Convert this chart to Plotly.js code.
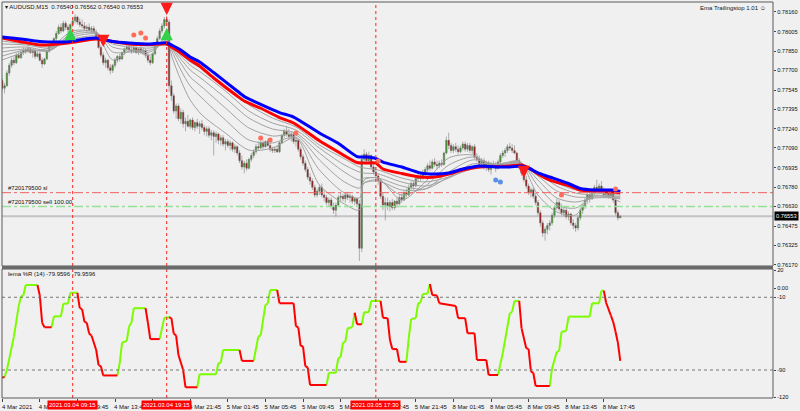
<!DOCTYPE html>
<html><head><meta charset="utf-8">
<script src="https://cdn.plot.ly/plotly-3.0.1.min.js"></script>
<style>html,body{margin:0;padding:0;background:#f0f0f0}#chart{width:800px;height:411px}</style>
</head><body><div id="chart"></div>
<script>
// ---------- DATA ----------
const symbolTitle = "AUDUSD,M15  0.76540 0.76562 0.76540 0.76553";
const indicatorName = "Ema Trailingstop 1.01 \u263A";
const wrTitle = "lema %R (14) -79.9596 -79.9596";

const barOpen = [
.77620,.77560,.77580,.77680,.77740,.77780,.77760,.77820,.77800,.77840,
.77860,.77850,.77870,.77840,.77850,.77810,.77830,.77780,.77750,.77790,
.77850,.77900,.77890,.77950,.77990,.78040,.78010,.78070,.78040,.78020,
.78060,.78090,.78120,.78080,.78060,.78050,.78030,.78040,.78020,.78030,
.78000,.77960,.77880,.77820,.77760,.77780,.77720,.77700,.77740,.77780,
.77810,.77790,.77840,.77870,.77880,.77860,.77850,.77880,.77840,.77870,
.77850,.77860,.77820,.77780,.77760,.77830,.77910,.77950,.78010,.78050,
.78100,.78080,.77580,.77500,.77380,.77420,.77320,.77370,.77280,.77300,
.77260,.77310,.77250,.77290,.77260,.77280,.77250,.77220,.77240,.77190,
.77210,.77180,.77200,.77150,.77170,.77120,.77140,.77110,.77130,.77080,
.77100,.77050,.76990,.76940,.76970,.76930,.77000,.77030,.77060,.77100,
.77090,.77130,.77100,.77140,.77110,.77080,.77070,.77080,.77060,.77130,
.77190,.77220,.77200,.77180,.77200,.77140,.77150,.77080,.77020,.76970,
.76920,.76860,.76830,.76780,.76720,.76750,.76780,.76720,.76700,.76660,
.76680,.76630,.76600,.76640,.76700,.76710,.76690,.76720,.76700,.76710,
.76670,.76690,.76650,.76300,.77000,.77040,.76990,.77030,.76940,.76900,
.76870,.76830,.76710,.76640,.76660,.76630,.76660,.76620,.76670,.76650,
.76700,.76680,.76740,.76720,.76780,.76810,.76790,.76850,.76870,.76850,
.76900,.76920,.76950,.76930,.76980,.76960,.76950,.76970,.76960,.77050,
.77150,.77110,.77070,.77100,.77080,.77060,.77090,.77120,.77080,.77110,
.77070,.77100,.77020,.77000,.76960,.76990,.76940,.76970,.76920,.76960,
.76950,.76930,.76980,.77030,.77050,.77070,.77100,.77090,.77070,.77050,
.76990,.76940,.76890,.76840,.76790,.76740,.76760,.76710,.76660,.76580,
.76500,.76420,.76450,.76480,.76500,.76560,.76620,.76660,.76610,.76580,
.76600,.76550,.76570,.76500,.76480,.76460,.76540,.76600,.76630,.76680,
.76720,.76690,.76750,.76780,.76760,.76790,.76760,.76720,.76750,.76710,
.76730,.76680,.76580,.76540];
const barHigh = [
.77640,.77600,.77700,.77760,.77800,.77810,.77840,.77850,.77860,.77880,
.77880,.77890,.77880,.77870,.77870,.77850,.77850,.77800,.77800,.77860,
.77910,.77930,.77960,.78010,.78060,.78070,.78090,.78090,.78060,.78070,
.78110,.78140,.78130,.78110,.78100,.78080,.78060,.78070,.78050,.78050,
.78020,.77980,.77900,.77840,.77800,.77790,.77750,.77750,.77800,.77820,
.77830,.77850,.77880,.77910,.77900,.77890,.77900,.77890,.77880,.77890,
.77880,.77870,.77840,.77810,.77840,.77920,.77970,.78030,.78070,.78120,
.78130,.78100,.77620,.77520,.77440,.77440,.77400,.77390,.77330,.77350,
.77320,.77330,.77300,.77320,.77300,.77310,.77270,.77260,.77260,.77230,
.77230,.77220,.77210,.77190,.77190,.77160,.77160,.77150,.77140,.77120,
.77110,.77070,.77030,.76990,.77000,.77010,.77050,.77080,.77120,.77140,
.77150,.77150,.77150,.77160,.77130,.77100,.77100,.77110,.77140,.77200,
.77240,.77260,.77240,.77220,.77210,.77170,.77160,.77100,.77040,.76990,
.76940,.76890,.76850,.76800,.76770,.76800,.76810,.76760,.76720,.76700,
.76700,.76660,.76660,.76720,.76740,.76730,.76730,.76740,.76730,.76720,
.76700,.76700,.76680,.77040,.77080,.77060,.77060,.77040,.76980,.76940,
.76890,.76850,.76740,.76700,.76700,.76680,.76690,.76680,.76700,.76720,
.76730,.76750,.76770,.76800,.76830,.76830,.76860,.76890,.76900,.76920,
.76940,.76970,.76990,.77000,.77010,.76990,.76990,.77000,.77060,.77180,
.77210,.77130,.77120,.77130,.77110,.77110,.77140,.77140,.77130,.77130,
.77110,.77120,.77050,.77030,.77010,.77010,.76990,.76990,.76980,.76990,
.76980,.77000,.77050,.77070,.77090,.77120,.77130,.77120,.77110,.77060,
.77010,.76960,.76910,.76870,.76810,.76780,.76780,.76740,.76680,.76600,
.76520,.76470,.76500,.76520,.76580,.76640,.76690,.76680,.76650,.76620,
.76620,.76590,.76580,.76530,.76500,.76560,.76620,.76650,.76700,.76740,
.76750,.76770,.76800,.76840,.76810,.76830,.76780,.76770,.76770,.76750,
.76740,.76700,.76600,.76562];
const barLow = [
.77540,.77520,.77570,.77660,.77720,.77740,.77750,.77790,.77790,.77820,
.77830,.77840,.77830,.77800,.77790,.77800,.77770,.77720,.77740,.77780,
.77840,.77870,.77880,.77930,.77980,.77990,.78000,.78020,.77990,.78000,
.78040,.78070,.78060,.78040,.78030,.78010,.78000,.78010,.77990,.77990,
.77950,.77870,.77800,.77740,.77720,.77700,.77670,.77680,.77720,.77760,
.77770,.77780,.77820,.77850,.77840,.77830,.77840,.77830,.77820,.77830,
.77820,.77800,.77760,.77740,.77750,.77820,.77890,.77940,.77990,.78030,
.78050,.77530,.77460,.77360,.77320,.77300,.77280,.77250,.77220,.77250,
.77240,.77230,.77220,.77240,.77200,.77230,.77190,.77180,.77170,.77150,
.77030,.77130,.77120,.77110,.77100,.77070,.77090,.77070,.77060,.77050,
.77030,.76970,.76920,.76890,.76910,.76920,.76980,.77010,.77040,.77070,
.77080,.77080,.77090,.77100,.77060,.77050,.77050,.77050,.77050,.77120,
.77170,.77180,.77160,.77140,.77120,.77100,.77060,.77000,.76950,.76900,
.76840,.76800,.76760,.76700,.76700,.76720,.76700,.76670,.76640,.76630,
.76610,.76570,.76550,.76630,.76670,.76670,.76660,.76680,.76660,.76650,
.76640,.76630,.76200,.76270,.76980,.76960,.76970,.76920,.76880,.76840,
.76800,.76690,.76600,.76520,.76600,.76590,.76600,.76600,.76620,.76640,
.76660,.76670,.76700,.76710,.76760,.76760,.76780,.76820,.76830,.76840,
.76870,.76900,.76910,.76920,.76940,.76920,.76930,.76940,.76950,.77040,
.77080,.77050,.77050,.77060,.77040,.77050,.77070,.77060,.77060,.77050,
.77040,.77000,.76980,.76940,.76930,.76920,.76910,.76900,.76880,.76930,
.76900,.76920,.76970,.77010,.77020,.77050,.77070,.77050,.77040,.76970,
.76920,.76870,.76820,.76770,.76720,.76700,.76690,.76640,.76560,.76470,
.76390,.76360,.76410,.76440,.76480,.76540,.76600,.76590,.76560,.76550,
.76530,.76520,.76480,.76450,.76430,.76440,.76520,.76570,.76610,.76650,
.76660,.76680,.76710,.76740,.76730,.76740,.76700,.76700,.76690,.76690,
.76660,.76560,.76520,.76540];
const barClose = [
.77560,.77580,.77680,.77740,.77780,.77760,.77820,.77800,.77840,.77860,
.77850,.77870,.77840,.77850,.77810,.77830,.77780,.77750,.77790,.77850,
.77900,.77890,.77950,.77990,.78040,.78010,.78070,.78040,.78020,.78060,
.78090,.78120,.78080,.78060,.78050,.78030,.78040,.78020,.78030,.78000,
.77960,.77880,.77820,.77760,.77780,.77720,.77700,.77740,.77780,.77810,
.77790,.77840,.77870,.77880,.77860,.77850,.77880,.77840,.77870,.77850,
.77860,.77820,.77780,.77760,.77830,.77910,.77950,.78010,.78050,.78100,
.78080,.77580,.77500,.77380,.77420,.77320,.77370,.77280,.77300,.77260,
.77310,.77250,.77290,.77260,.77280,.77250,.77220,.77240,.77190,.77210,
.77180,.77200,.77150,.77170,.77120,.77140,.77110,.77130,.77080,.77100,
.77050,.76990,.76940,.76970,.76930,.77000,.77030,.77060,.77100,.77090,
.77130,.77100,.77140,.77110,.77080,.77070,.77080,.77060,.77130,.77190,
.77220,.77200,.77180,.77200,.77140,.77150,.77080,.77020,.76970,.76920,
.76860,.76830,.76780,.76720,.76750,.76780,.76720,.76700,.76660,.76680,
.76630,.76600,.76640,.76700,.76710,.76690,.76720,.76700,.76710,.76670,
.76690,.76650,.76300,.77000,.77040,.76990,.77030,.76940,.76900,.76870,
.76830,.76710,.76640,.76660,.76630,.76660,.76620,.76670,.76650,.76700,
.76680,.76740,.76720,.76780,.76810,.76790,.76850,.76870,.76850,.76900,
.76920,.76950,.76930,.76980,.76960,.76950,.76970,.76960,.77050,.77150,
.77110,.77070,.77100,.77080,.77060,.77090,.77120,.77080,.77110,.77070,
.77100,.77020,.77000,.76960,.76990,.76940,.76970,.76920,.76960,.76950,
.76930,.76980,.77030,.77050,.77070,.77100,.77090,.77070,.77050,.76990,
.76940,.76890,.76840,.76790,.76740,.76760,.76710,.76660,.76580,.76500,
.76420,.76450,.76480,.76500,.76560,.76620,.76660,.76610,.76580,.76600,
.76550,.76570,.76500,.76480,.76460,.76540,.76600,.76630,.76680,.76720,
.76690,.76750,.76780,.76760,.76790,.76760,.76720,.76750,.76710,.76730,
.76680,.76580,.76540,.76553];

// EMA lines (sampled at bar indices)
const emaIdx = [0,8,16,28,35,40,47,54,63,70,72,76,80,84,90,100,103,110,118,124,135,143,151,155,159,162,170,178,184,190,196,203,210,216,221,224,228,233,241,246,252,256,260,263];
const emaBlue = [.77963,.77947,.77927,.77926,.77947,.77955,.77927,.77916,.77908,.77918,.77900,.77861,.77805,.77766,.77683,.77538,.77495,.77432,.77368,.77333,.77207,.77126,.77022,.77018,.77007,.76979,.76940,.76893,.76885,.76893,.76924,.76948,.76940,.76940,.76948,.76932,.76893,.76861,.76810,.76771,.76759,.76759,.76759,.76747];
const emaRed = [.77955,.77926,.77900,.77916,.77935,.77947,.77927,.77908,.77904,.77908,.77884,.77837,.77782,.77735,.77640,.77498,.77459,.77402,.77329,.77286,.77146,.77058,.76975,.76971,.76971,.76924,.76889,.76861,.76861,.76885,.76916,.76940,.76944,.76948,.76955,.76932,.76885,.76837,.76794,.76759,.76751,.76747,.76743,.76735];

const grayIdx = [0,10,20,30,40,47,55,63,70,72,76,80,85,95,105,115,125,135,145,152,154,160,170,180,190,200,210,220,228,236,244,252,263];
const gray1 = [.77782,.77845,.77876,.78010,.77994,.77782,.77860,.77821,.77971,.77821,.77624,.77467,.77349,.77207,.77073,.77089,.77168,.76798,.76656,.76601,.76837,.76853,.76680,.76822,.77011,.77034,.76932,.76979,.76719,.76586,.76562,.76743,.76664];
const gray2 = [.77813,.77860,.77860,.77994,.78002,.77845,.77845,.77845,.77939,.77860,.77703,.77577,.77483,.77310,.77152,.77129,.77176,.76916,.76743,.76696,.76814,.76837,.76719,.76790,.76955,.77018,.76955,.76987,.76790,.76641,.76617,.76711,.76688];
const gray3 = [.77845,.77868,.77853,.77979,.77994,.77884,.77860,.77860,.77916,.77876,.77758,.77648,.77569,.77404,.77247,.77184,.77192,.76995,.76830,.76774,.76814,.76830,.76759,.76767,.76900,.76995,.76963,.76979,.76837,.76696,.76664,.76696,.76696];
const gray4 = [.77876,.77884,.77860,.77963,.77986,.77908,.77884,.77876,.77908,.77884,.77790,.77703,.77632,.77483,.77325,.77239,.77207,.77050,.76908,.76837,.76853,.76853,.76790,.76767,.76861,.76963,.76963,.76971,.76869,.76751,.76704,.76704,.76704];
const gray5 = [.77908,.77900,.77876,.77947,.77971,.77923,.77900,.77892,.77900,.77892,.77813,.77742,.77679,.77538,.77380,.77286,.77231,.77089,.76963,.76900,.76892,.76885,.76822,.76790,.76853,.76940,.76955,.76963,.76892,.76790,.76735,.76719,.76711];
const gray6 = [.77931,.77908,.77892,.77931,.77955,.77931,.77908,.77900,.77900,.77892,.77829,.77766,.77711,.77577,.77428,.77325,.77255,.77113,.77011,.76940,.76932,.76916,.76853,.76822,.76861,.76924,.76948,.76955,.76900,.76814,.76759,.76735,.76727];

// signals (arrow tip prices)
const upArrowIdx = [29, 70];
const upArrowPrice = [.78034, .78034];
const downArrowIdx = [43, 70, 222];
const downArrowPrice = [.77884, .78136, .76853];
const stopDotIdx = [56, 59, 61, 110, 114, 125, 160, 238, 261];
const stopDotPrice = [.77979, .77994, .77955, .77168, .77152, .77207, .76987, .76719, .76767];
const blueDotIdx = [210, 212];
const blueDotPrice = [.76837, .76822];

// order lines
const slPrice = 0.76738, slLabel = "#720179500 sl";
const entryPrice = 0.76630, entryLabel = "#720179500 sell 100.00";
const lastPrice = 0.76553;

// vertical markers
const vlineIdx = [30, 70, 159];
const vlineLabels = ["2021.03.04 09:15", "2021.03.04 19:15", "2021.03.05 17:30"];

// axes
const timeTickIdx = [0,16,32,48,64,80,96,112,128,144,160,176,192,208,224,240,256];
const timeTickLabels = ["4 Mar 2021","4 Mar 05:45","4 Mar 09:45","4 Mar 13:45","4 Mar 17:45","4 Mar 21:45","5 Mar 01:45","5 Mar 05:45","5 Mar 09:45","5 Mar 13:45","5 Mar 17:45","5 Mar 21:45","8 Mar 01:45","8 Mar 05:45","8 Mar 09:45","8 Mar 13:45","8 Mar 17:45"];
const priceTicks = [0.78160,0.78005,0.77850,0.77700,0.77545,0.77395,0.77240,0.77090,0.76935,0.76780,0.76630,0.76475,0.76325,0.76170];
const wrTicks = [20, 0, -10, -90, -120];
const wrTickText = ["20","0.00","-10","-90","-120"];
const wrLevels = [-10, -90];

// Williams %R line vertices (bar index, value, segment colour)
const wrIdx = [0,1,2,5,7,8,9,10,15,16,
17,18,21,22,25,26,28,29,32,33,
34,35,36,37,38,40,41,42,43,49,
50,51,53,54,55,56,61,62,63,67,
69,71,72,73,74,75,77,78,83,84,
91,92,93,94,101,102,107,109,110,112,
113,114,117,118,124,125,126,127,128,129,
130,131,138,139,142,143,144,145,146,147,
149,150,151,153,154,156,157,161,162,164,
165,166,168,169,172,173,174,176,177,178,
179,181,182,183,185,186,193,194,197,198,
201,202,206,207,211,212,213,214,216,217,
218,220,221,223,224,225,226,227,233,234,
236,237,238,240,241,250,251,254,255,256,
257,259,260,261,262,263];
const wrVal = [-98,-98,-90,-53,-20,-9,-8,3.5,3.5,-8,
-38,-43,-43,-31,-31,-17,-17,-5,-5,-22,
-23,-37,-38,-50,-52,-68,-84.5,-86,-96,-96,
-82.6,-60,-58,-42,-38,-22,-22,-38,-56,-56,
-32.4,-32,-33,-50,-52,-73.5,-90,-109,-109,-94.7,
-94.7,-82.6,-82,-68,-68,-80,-80,-53,-52,-18.5,
-17,-2,-2,-16.6,-16.6,-42,-43,-63.6,-64,-86,
-87,-106.5,-106.5,-93,-93,-77,-76,-60,-59,-44,
-43,-27,-39.7,-39.7,-26.5,-26.5,-14,-14,-32.4,-33,
-57,-67,-67,-81,-81,-55,-34,-33,-16.6,-16,
-6.4,-6,4.6,-7.5,-8,-16.6,-19.6,-33,-33,-49.6,
-49.6,-79,-79,-95.5,-95.5,-83,-71.6,-57,-27.6,-26,
-14,-14,-44,-66,-67,-91.8,-93,-107.6,-107.6,-88,
-70,-69,-48,-47,-31.3,-31.3,-16.6,-16.6,-2.7,-2.7,
-16,-30,-37,-48,-60,-79.96];
const wrColor = ("rrgggggggr"+"rrrggggggr"+"rrrrrrrrrr"+"gggggggrrr"+"ggrrrrrrrg"+
"gggggrrggg"+"gggrrrrrrr"+"rrrggggggg"+"ggrrggggrr"+"rrrrrggggg"+
"gggrrrrrrr"+"rrrrrggggg"+"ggrrrrrrrg"+"gggggggggg"+"rrrrrr").split("");

// ---------- LAYOUT HELPERS ----------
const W = 800, H = 411, ML = 2, MR = 27, MT = 2, MB = 13;
const PW = W - ML - MR, PH = H - MT - MB;
const px = x => (x - ML) / PW;
const py = y => (H - MB - y) / PH;
const FONT = "Liberation Sans, Arial, DejaVu Sans, sans-serif";

const barIdx = barClose.map((_, i) => i);

const traces = [];
const grays = [gray1, gray2, gray3, gray4, gray5, gray6];
grays.forEach(g => traces.push({
  type: "scatter", mode: "lines", x: grayIdx, y: g, xaxis: "x", yaxis: "y",
  line: {color: "#a2a2a2", width: 1, shape: "spline", smoothing: 0.8}, hoverinfo: "skip", showlegend: false
}));
traces.push({
  type: "candlestick", x: barIdx, open: barOpen, high: barHigh, low: barLow, close: barClose,
  xaxis: "x", yaxis: "y", whiskerwidth: 0,
  increasing: {line: {color: "#6a6a6a", width: 0.5}, fillcolor: "#3b9a26"},
  decreasing: {line: {color: "#6a6a6a", width: 0.5}, fillcolor: "#9c1010"},
  hoverinfo: "skip", showlegend: false
});
traces.push({type: "scatter", mode: "lines", x: emaIdx, y: emaRed, xaxis: "x", yaxis: "y",
  line: {color: "#ff0000", width: 3, shape: "spline", smoothing: 0.6}, hoverinfo: "skip", showlegend: false});
traces.push({type: "scatter", mode: "lines", x: emaIdx, y: emaBlue, xaxis: "x", yaxis: "y",
  line: {color: "#0000ff", width: 3, shape: "spline", smoothing: 0.6}, hoverinfo: "skip", showlegend: false});
traces.push({type: "scatter", mode: "markers", x: stopDotIdx, y: stopDotPrice, xaxis: "x", yaxis: "y",
  marker: {symbol: "circle", size: 5, color: "#ff6e5a"}, hoverinfo: "skip", showlegend: false});
traces.push({type: "scatter", mode: "markers", x: blueDotIdx, y: blueDotPrice, xaxis: "x", yaxis: "y",
  marker: {symbol: "circle", size: 5, color: "#5b8fe8"}, hoverinfo: "skip", showlegend: false});

// Williams %R coloured segments
const seg = {g: {x: [], y: []}, r: {x: [], y: []}};
for (let i = 1; i < wrIdx.length; i++) {
  const s = seg[wrColor[i]];
  s.x.push(wrIdx[i - 1], wrIdx[i], null);
  s.y.push(wrVal[i - 1], wrVal[i], null);
}
traces.push({type: "scatter", mode: "lines", x: seg.g.x, y: seg.g.y, xaxis: "x", yaxis: "y2",
  line: {color: "#7cfc00", width: 2}, connectgaps: false, hoverinfo: "skip", showlegend: false});
traces.push({type: "scatter", mode: "lines", x: seg.r.x, y: seg.r.y, xaxis: "x", yaxis: "y2",
  line: {color: "#ff0000", width: 2}, connectgaps: false, hoverinfo: "skip", showlegend: false});

// ---------- SHAPES ----------
const shapes = [];
shapes.push({type: "line", xref: "paper", yref: "y", x0: 0, x1: 1, y0: lastPrice, y1: lastPrice, line: {color: "#c3c3c8", width: 2}, layer: "below"});
shapes.push({type: "line", xref: "paper", yref: "y", x0: 0, x1: 1, y0: slPrice, y1: slPrice, line: {color: "#f06060", width: 1, dash: "dashdot"}});
shapes.push({type: "line", xref: "paper", yref: "y", x0: 0, x1: 1, y0: entryPrice, y1: entryPrice, line: {color: "#98e098", width: 1.5, dash: "dashdot"}});
wrLevels.forEach(v => shapes.push({type: "line", xref: "paper", yref: "y2", x0: 0, x1: 1, y0: v, y1: v, line: {color: "#777777", width: 1, dash: "dot"}}));
vlineIdx.forEach(v => shapes.push({type: "line", xref: "x", yref: "paper", x0: v, x1: v, y0: 0, y1: 1, line: {color: "#ff2020", width: 1, dash: "dot"}}));
shapes.push({type: "rect", xref: "paper", yref: "paper", x0: 0, x1: 1, y0: py(266), y1: 1, line: {color: "#5a5a5a", width: 1}});
shapes.push({type: "rect", xref: "paper", yref: "paper", x0: 0, x1: 1, y0: 0, y1: py(269), line: {color: "#5a5a5a", width: 1}});
shapes.push({type: "rect", xref: "paper", yref: "paper", x0: 0, x1: 1, y0: py(269), y1: py(266), fillcolor: "#6a6a6a", line: {width: 0}});

// ---------- ANNOTATIONS ----------
const annotations = [];
const txt = (x, y, text, opts) => Object.assign({xref: "paper", yref: "paper", x: px(x), y: py(y), text: text,
  showarrow: false, xanchor: "left", yanchor: "middle", font: {family: FONT, size: 6, color: "#111111"}}, opts || {});
annotations.push(txt(3, 7, "\u25BE " + symbolTitle));
annotations.push(txt(768, 8, indicatorName, {xanchor: "right"}));
annotations.push(txt(6, 188, slLabel));
annotations.push(txt(6, 202, entryLabel));
annotations.push(txt(6, 274, wrTitle));
// signal arrows drawn as thick annotation arrows pointing at the data point
upArrowIdx.forEach((v, i) => annotations.push({xref: "x", yref: "y", x: v, y: upArrowPrice[i], text: "", showarrow: true,
  ax: 0, ay: 13, arrowhead: 2, arrowsize: 0.7, arrowwidth: 3.5, arrowcolor: "#33d04a", standoff: 0}));
downArrowIdx.forEach((v, i) => annotations.push({xref: "x", yref: "y", x: v, y: downArrowPrice[i], text: "", showarrow: true,
  ax: 0, ay: -13, arrowhead: 2, arrowsize: 0.7, arrowwidth: 3.5, arrowcolor: "#ff1a1a", standoff: 0}));
vlineIdx.forEach((v, i) => annotations.push({xref: "x", yref: "paper", x: v, y: py(404.5), text: vlineLabels[i],
  showarrow: false, xanchor: "center", yanchor: "middle", bgcolor: "#ff0000", borderpad: 1,
  font: {family: FONT, size: 6, color: "#ffffff"}}));
annotations.push({xref: "paper", yref: "y", x: px(774), y: lastPrice, text: lastPrice.toFixed(5), showarrow: false,
  xanchor: "left", yanchor: "middle", bgcolor: "#000000", borderpad: 1, font: {family: FONT, size: 5.7, color: "#ffffff"}});

const axisFont = {family: FONT, size: 5.7, color: "#111"};
const layout = {
  width: W, height: H, margin: {l: ML, r: MR, t: MT, b: MB, pad: 0},
  paper_bgcolor: "#f0f0f0", plot_bgcolor: "#f0f0f0",
  font: {family: FONT, size: 6, color: "#111111"},
  showlegend: false, dragmode: false, boxgap: 0.1,
  xaxis: {domain: [0, 1], range: [-0.085, 328], anchor: "y2", tickvals: timeTickIdx, ticktext: timeTickLabels,
    ticks: "outside", ticklen: 3, tickcolor: "#444", showgrid: false, zeroline: false, showline: false,
    tickfont: {family: FONT, size: 6, color: "#111"}, ticklabelshift: 15, rangeslider: {visible: false}, fixedrange: true},
  yaxis: {domain: [py(266), 1], range: [0.76161, 0.78238], side: "right", anchor: "x", tickvals: priceTicks, tickformat: ".5f",
    ticks: "outside", ticklen: 2, tickcolor: "#444", showgrid: false, zeroline: false, showline: false,
    tickfont: axisFont, ticklabelstandoff: 0, fixedrange: true},
  yaxis2: {domain: [0, py(269)], range: [-120.8, 21.1], side: "right", anchor: "x", tickvals: wrTicks, ticktext: wrTickText,
    ticks: "outside", ticklen: 2, tickcolor: "#444", showgrid: false, zeroline: false, showline: false,
    tickfont: axisFont, ticklabelstandoff: 0, fixedrange: true},
  shapes: shapes, annotations: annotations
};
Plotly.newPlot("chart", traces, layout, {displayModeBar: false, staticPlot: true});
</script></body></html>
